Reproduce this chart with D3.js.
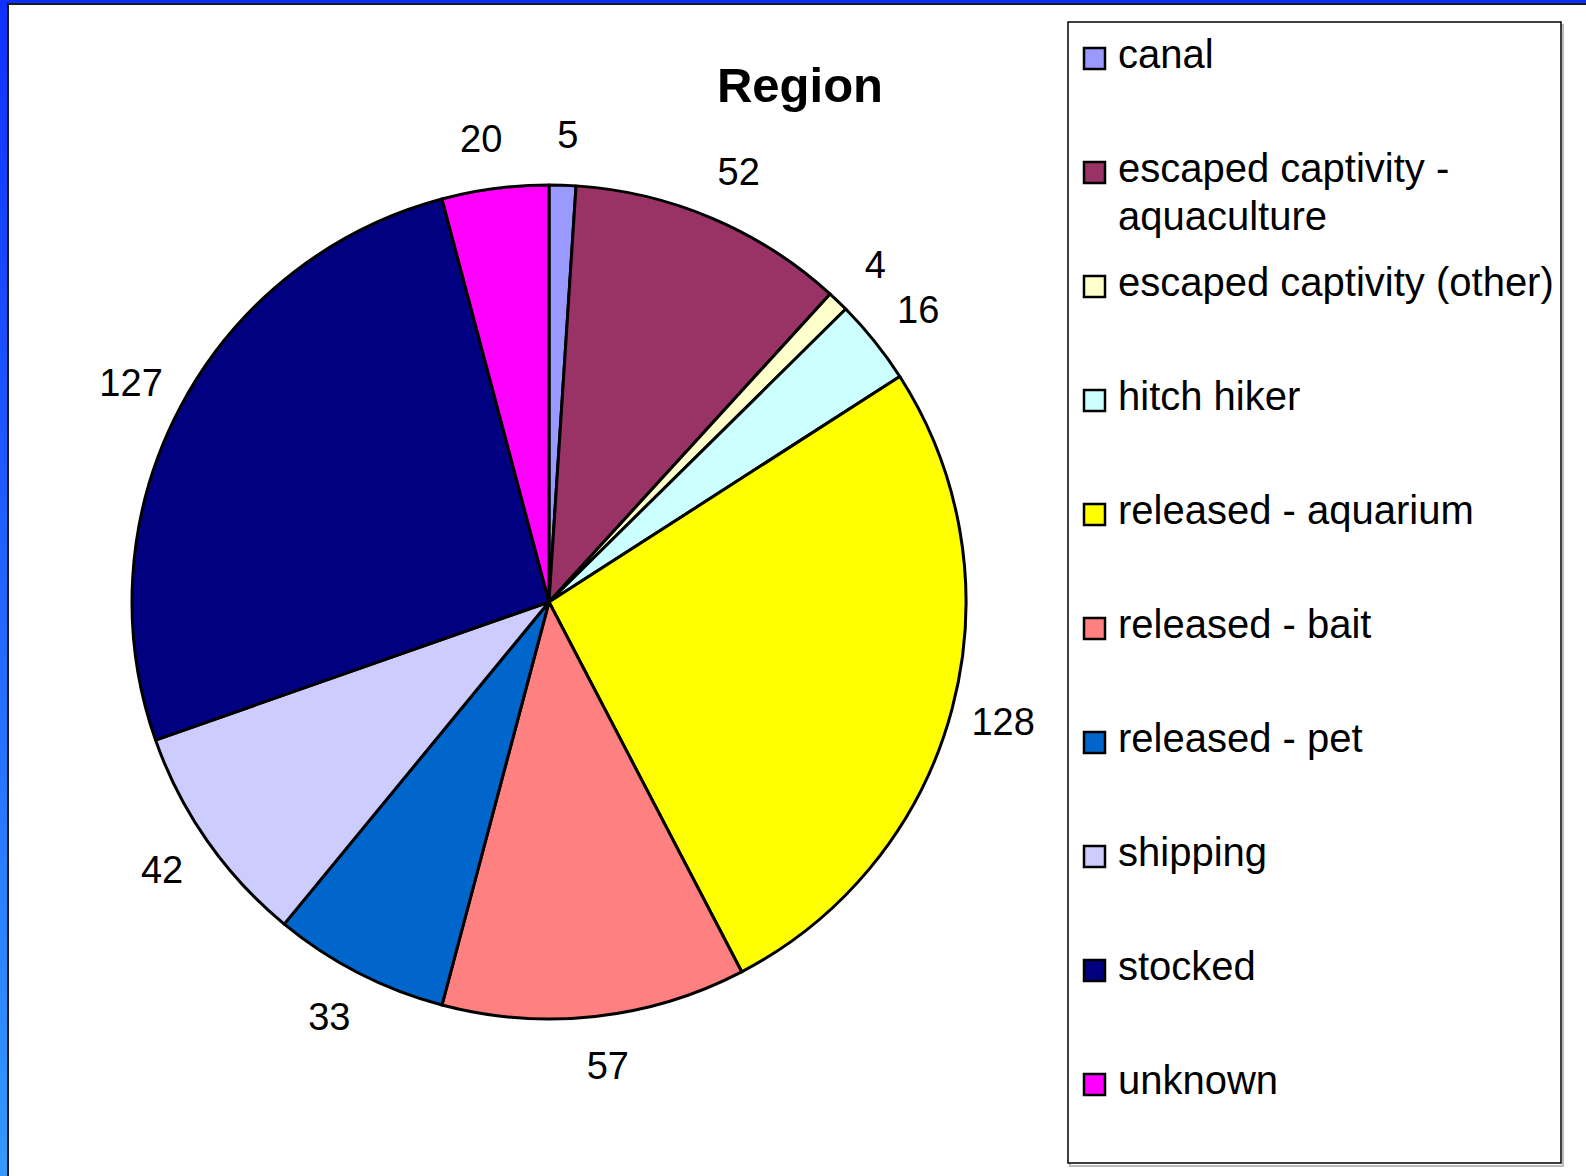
<!DOCTYPE html>
<html>
<head>
<meta charset="utf-8">
<script src="https://cdn.jsdelivr.net/npm/d3@7"></script>
<style>
  html, body { margin: 0; padding: 0; background: #fff; }
  svg { display: block; font-family: "Liberation Sans", Arial, sans-serif; }
</style>
</head>
<body>
<svg id="chart" width="1586" height="1176"></svg>
<script>
// data
var categories = ['canal', 'escaped captivity - aquaculture', 'escaped captivity (other)',
    'hitch hiker', 'released - aquarium', 'released - bait', 'released - pet',
    'shipping', 'stocked', 'unknown'];
var values = [5, 52, 4, 16, 128, 57, 33, 42, 127, 20];
var colors = ['#9999ff', '#993366', '#ffffcc', '#ccffff', '#ffff00',
    '#ff8080', '#0066cc', '#ccccff', '#000080', '#ff00ff'];
var title = 'Region';

var W = 1586, H = 1176;
var cx = 549, cy = 602, r = 417;
var svg = d3.select('#chart');

// slide background: blue strip on the left and top
var defs = svg.append('defs');
var grad = defs.append('linearGradient').attr('id', 'bg').attr('x1', 0).attr('y1', 0).attr('x2', 0).attr('y2', 1);
grad.append('stop').attr('offset', '0%').attr('stop-color', '#1030ff');
grad.append('stop').attr('offset', '100%').attr('stop-color', '#3399ff');
svg.append('rect').attr('width', W).attr('height', H).attr('fill', 'url(#bg)');
svg.append('rect').attr('x', 8).attr('y', 4).attr('width', W).attr('height', H)
    .attr('fill', '#fff').attr('stroke', '#1a1a1a').attr('stroke-width', 2);

// title
svg.append('text').attr('x', 800).attr('y', 102).attr('text-anchor', 'middle')
    .style('font-size', '49px').style('font-weight', 'bold').text(title);

// pie
var data = categories.map(function (c, i) { return { name: c, value: values[i], color: colors[i] }; });
var pie = d3.pie().sort(null).value(function (d) { return d.value; });
var arcs = pie(data);
var arc = d3.arc().innerRadius(0).outerRadius(r);
var g = svg.append('g').attr('transform', 'translate(' + cx + ',' + cy + ')');
g.selectAll('path').data(arcs).enter().append('path')
    .attr('d', arc)
    .attr('fill', function (d) { return d.data.color; })
    .attr('stroke', '#000').attr('stroke-width', 3).attr('stroke-linejoin', 'round');

// value labels outside the pie
var lR = r + 50;
g.selectAll('text.lbl').data(arcs).enter().append('text')
    .attr('class', 'lbl')
    .style('font-size', '38px')
    .attr('text-anchor', 'middle')
    .attr('dy', '0.34em')
    .text(function (d) { return d.data.value; })
    .each(function (d) {
        var a = (d.startAngle + d.endAngle) / 2;
        var w = this.getComputedTextLength();
        var s = Math.sin(a), c = Math.cos(a);
        var x = lR * s + (s >= 0 ? 1 : -1) * w / 2 * Math.abs(c) * 0.35;
        var y = -lR * c;
        d3.select(this).attr('x', x).attr('y', y);
    });

// legend
var lx = 1068, ly = 22, lw = 493, lh = 1141;
svg.append('rect').attr('x', lx + 2).attr('y', ly + 3).attr('width', lw).attr('height', lh)
    .attr('fill', 'none').attr('stroke', '#bbb').attr('stroke-width', 2);
svg.append('rect').attr('x', lx).attr('y', ly).attr('width', lw).attr('height', lh)
    .attr('fill', '#fff').attr('stroke', '#000').attr('stroke-width', 1.5);

var rowH = 114, firstBase = 68, lineH = 48, maxW = 440;
var leg = svg.append('g');
data.forEach(function (d, i) {
    var base = firstBase + i * rowH;
    leg.append('rect').attr('x', 1084).attr('y', base - 20).attr('width', 21).attr('height', 21)
        .attr('fill', d.color).attr('stroke', '#000').attr('stroke-width', 2.5);
    var t = leg.append('text').attr('x', 1118).attr('y', base).style('font-size', '40px');
    // wrap words to the legend width
    var words = d.name.split(' '), line = [], n = 0;
    var ts = t.append('tspan').attr('x', 1118).attr('y', base);
    words.forEach(function (wd) {
        line.push(wd);
        ts.text(line.join(' '));
        if (ts.node().getComputedTextLength() > maxW && line.length > 1) {
            line.pop();
            ts.text(line.join(' '));
            line = [wd];
            n++;
            ts = t.append('tspan').attr('x', 1118).attr('y', base + n * lineH).text(wd);
        }
    });
});
</script>
</body>
</html>
